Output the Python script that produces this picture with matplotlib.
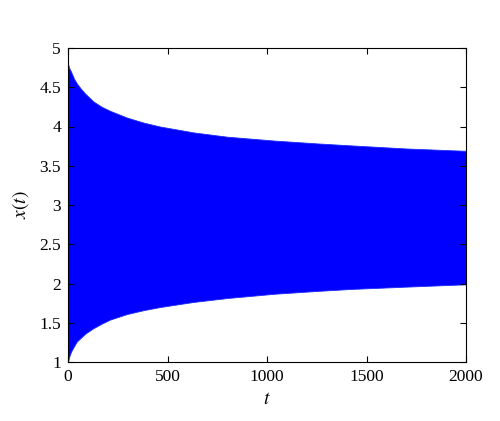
import matplotlib
matplotlib.use("Agg")
import matplotlib.pyplot as plt

# envelope of the oscillating x(t)
t = [0, 5, 15, 30, 44, 65, 86, 127, 170, 211, 295, 379, 462, 630, 800,
     1040, 1250, 1417, 1700, 2000]
x_upper = [4.80, 4.75, 4.70, 4.61, 4.55, 4.48, 4.42, 4.32, 4.25, 4.20, 4.115,
           4.05, 4.00, 3.925, 3.87, 3.82, 3.785, 3.76, 3.72, 3.69]
x_lower = [1.00, 1.06, 1.13, 1.20, 1.26, 1.31, 1.36, 1.43, 1.49, 1.54, 1.61,
           1.66, 1.70, 1.765, 1.815, 1.87, 1.905, 1.93, 1.96, 1.99]

xticks = [0, 500, 1000, 1500, 2000]
yticks = [1, 1.5, 2, 2.5, 3, 3.5, 4, 4.5, 5]
ytick_labels = ["1", "1.5", "2", "2.5", "3", "3.5", "4", "4.5", "5"]

plt.rcParams["font.family"] = ["Liberation Serif", "DejaVu Serif"]
plt.rcParams["mathtext.fontset"] = "stix"

fig = plt.figure(figsize=(5.0, 4.21), dpi=100)
ax = fig.add_axes([68 / 500, 1 - 362 / 421, 398 / 500, 314 / 421])

ax.fill_between(t, x_lower, x_upper, color="#0000ff", lw=0.6, edgecolor="#1a2cff")

ax.set_xlim(0, 2000)
ax.set_ylim(1, 5)
ax.set_xticks(xticks)
ax.set_yticks(yticks)
ax.set_yticklabels(ytick_labels)
ax.tick_params(direction="in", top=True, right=True, length=4, width=0.8,
               labelsize=12.5, pad=5)
for s in ax.spines.values():
    s.set_linewidth(0.8)

ax.set_xlabel("$t$", fontsize=14, labelpad=4)
ax.set_ylabel("$x(t)$", fontsize=14, labelpad=6)

fig.savefig("out.png", dpi=100)
